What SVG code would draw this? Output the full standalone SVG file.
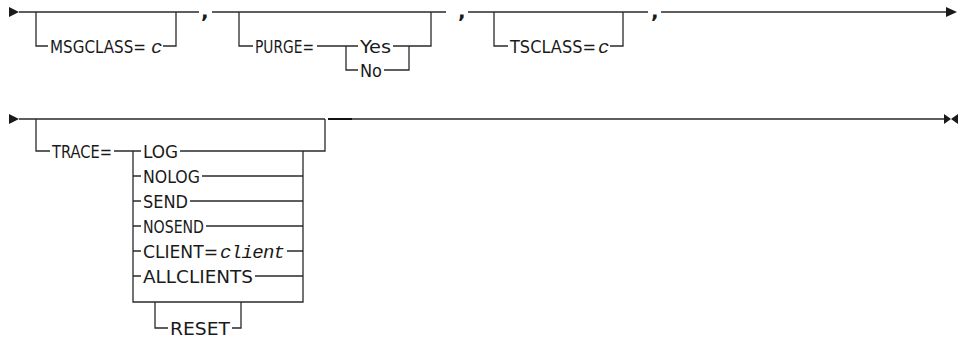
<svg xmlns="http://www.w3.org/2000/svg" width="962" height="341" viewBox="0 0 962 341">
<style>
.l{fill:none;stroke:#2a2a2a;stroke-width:1.3}
.t{font-family:"DejaVu Sans Condensed","Liberation Sans",sans-serif;font-size:18.5px;fill:#1a1a1a}
.m{font-family:"Liberation Mono",monospace;font-style:italic;font-size:19px;fill:#1a1a1a}
.c{font-family:"DejaVu Sans",sans-serif;font-size:20px;font-weight:bold;fill:#1a1a1a}
.a{fill:#1a1a1a}
</style>
<rect width="962" height="341" fill="#fff"/>
<g id="connectors">
<polygon class="a" points="9,7 19,12 9,17"/>
<path class="l" d="M19,12H199M212,12H446M468,12H648M661,12H948"/>
<polygon class="a" points="946,7 957,12 946,17"/>
<path class="l" d="M36,12V46H48M163,46H176V12"/>
<path class="l" d="M239,12V46H253M317,46H358M346,46V70H358M393,46H431V12M384,70H409V46"/>
<path class="l" d="M494,12V46H508M610,46H623V12"/>
<polygon class="a" points="9,114 19,119 9,124"/>
<path class="l" d="M19,119H325M352,119H945"/>
<path d="M328,119H352" stroke="#111" stroke-width="2"/>
<polygon class="a" points="944,114 951,119 944,124"/>
<polygon class="a" points="958,114 951,119 958,124"/>
<path class="l" d="M36,119V151H50M114,151H141M133,151V302H303V151M180,151H325V119"/>
<path class="l" d="M133,176H141M202,176H303M133,201H141M190,201H303M133,226H141M206,226H303M133,251H141M287,251H303M133,276H141M255,276H303"/>
<path class="l" d="M155,302V328H168M232,328H241V302"/>
</g>
<g id="row1">
<g id="msgclass"><text class="t" x="50" y="52.5" style="font-size:17px" textLength="96" lengthAdjust="spacingAndGlyphs">MSGCLASS=</text><text class="m" x="151" y="52.5">c</text></g>
<g id="comma1"><text class="c" x="201" y="18">,</text></g>
<g id="purge"><text class="t" x="255" y="52.5" textLength="59" lengthAdjust="spacingAndGlyphs">PURGE=</text><text class="t" x="360" y="52.5" textLength="31" lengthAdjust="spacingAndGlyphs">Yes</text><text class="t" x="360" y="76.5" textLength="22" lengthAdjust="spacingAndGlyphs">No</text></g>
<g id="comma2"><text class="c" x="458" y="18">,</text></g>
<g id="tsclass"><text class="t" x="510" y="52.5" textLength="86" lengthAdjust="spacingAndGlyphs">TSCLASS=</text><text class="m" x="598" y="52.5">c</text></g>
<g id="comma3"><text class="c" x="651" y="18">,</text></g>
</g>
<g id="row2">
<g id="trace"><text class="t" x="52" y="157.5" textLength="60" lengthAdjust="spacingAndGlyphs">TRACE=</text></g>
<g id="log"><text class="t" x="143" y="157.5" textLength="35" lengthAdjust="spacingAndGlyphs">LOG</text></g>
<g id="nolog"><text class="t" x="143" y="182.5" textLength="57" lengthAdjust="spacingAndGlyphs">NOLOG</text></g>
<g id="send"><text class="t" x="143" y="207.5" textLength="45" lengthAdjust="spacingAndGlyphs">SEND</text></g>
<g id="nosend"><text class="t" x="143" y="232.5" textLength="61" lengthAdjust="spacingAndGlyphs">NOSEND</text></g>
<g id="client"><text class="t" x="143" y="257.5" textLength="75" lengthAdjust="spacingAndGlyphs">CLIENT=</text><text class="m" x="220" y="257.5" textLength="65">client</text></g>
<g id="allclients"><text class="t" x="143" y="282.5" textLength="110" lengthAdjust="spacingAndGlyphs">ALLCLIENTS</text></g>
<g id="reset"><text class="t" x="170" y="334.5" textLength="60" lengthAdjust="spacingAndGlyphs">RESET</text></g>
</g>
</svg>
